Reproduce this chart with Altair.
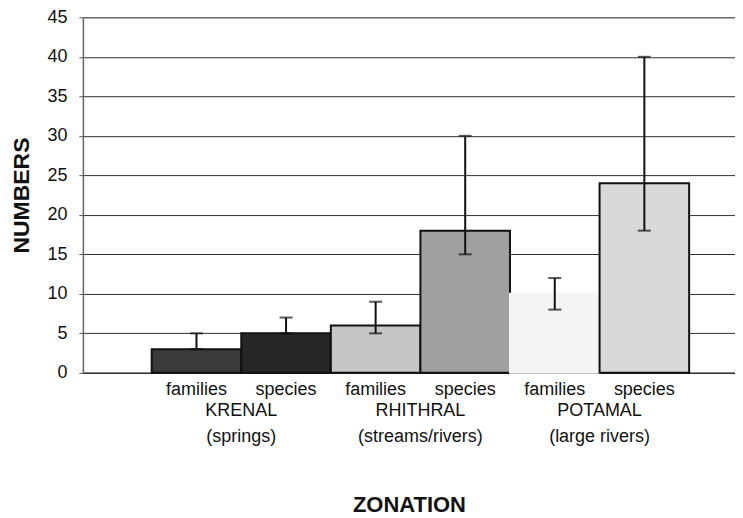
import altair as alt
import pandas as pd

zones = ["KRENAL", "KRENAL", "RHITHRAL", "RHITHRAL", "POTAMAL", "POTAMAL"]
kinds = ["families", "species", "families", "species", "families", "species"]
values = [3, 5, 6, 18, 10, 24]
err_low = [3, 5, 5, 15, 8, 18]
err_high = [5, 7, 9, 30, 12, 40]

group_names = ["KRENAL", "RHITHRAL", "POTAMAL"]
group_sub = ["(springs)", "(streams/rivers)", "(large rivers)"]

keys = [f"{z}|{k}" for z, k in zip(zones, kinds)]
df = pd.DataFrame({"key": keys, "zone": zones, "kind": kinds, "value": values,
                   "low": err_low, "high": err_high})
gdf = pd.DataFrame({"key": [f"{g}|species" for g in group_names],
                    "name": group_names, "sub": group_sub})

fills = ["#3a3a3a", "#262626", "#c6c6c6", "#a0a0a0", "#f4f4f4", "#d9d9d9"]
strokes = ["#111111", "#111111", "#111111", "#111111", "#f4f4f4", "#111111"]

FONT = "Liberation Sans"
W, H = 653, 356

xscale = alt.Scale(domain=keys, paddingInner=0, paddingOuter=0.64, align=0.6)
yscale = alt.Scale(domain=[0, 45], nice=False)

x_axis = alt.Axis(title="ZONATION", labelExpr="split(datum.label, '|')[1]",
                  labelAngle=0, labelFontSize=18, labelPadding=8, ticks=False,
                  titleFontSize=22, titleFontWeight="bold", titlePadding=96,
                  domainColor="#333333", domainWidth=1.5, labelColor="#111111",
                  titleColor="#111111", labelFont=FONT, titleFont=FONT)
y_axis = alt.Axis(title="NUMBERS", values=list(range(0, 46, 5)), grid=True,
                  gridColor="#2e2e2e", gridWidth=1, tickSize=4, tickColor="#555555",
                  labelFontSize=18, labelPadding=12, titleFontSize=23,
                  titleFontWeight="bold", titlePadding=13, domainColor="#666666",
                  domainWidth=1.5, labelColor="#111111", titleColor="#111111",
                  labelFont=FONT, titleFont=FONT, labelOverlap=False)

xs = alt.X("key:N", scale=xscale, sort=keys, axis=x_axis)

base = alt.Chart(df)

bars = base.mark_bar(strokeWidth=2).encode(
    x=xs,
    y=alt.Y("value:Q", scale=yscale, axis=y_axis),
    fill=alt.Fill("key:N", scale=alt.Scale(domain=keys, range=fills), legend=None),
    stroke=alt.Stroke("key:N", scale=alt.Scale(domain=keys, range=strokes), legend=None),
)

rules = base.mark_rule(color="#111111", strokeWidth=2).encode(
    x=xs, y=alt.Y("low:Q", scale=yscale, axis=y_axis), y2="high:Q")
cap_hi = base.mark_tick(color="#111111", thickness=2, size=13).encode(
    x=xs, y=alt.Y("high:Q", scale=yscale, axis=y_axis))
cap_lo = base.mark_tick(color="#111111", thickness=2, size=13).encode(
    x=xs, y=alt.Y("low:Q", scale=yscale, axis=y_axis))

gx = alt.X("key:N", scale=xscale, sort=keys, bandPosition=0, axis=x_axis)
names = alt.Chart(gdf).mark_text(fontSize=18, font=FONT, color="#111111", baseline="middle").encode(
    x=gx, y=alt.value(H + 38), text="name:N")
subs = alt.Chart(gdf).mark_text(fontSize=18, font=FONT, color="#111111", baseline="middle").encode(
    x=gx, y=alt.value(H + 64), text="sub:N")

chart = alt.layer(bars, rules, cap_hi, cap_lo, names, subs).properties(
    width=W, height=H,
    padding={"left": 2, "top": 0, "right": 0, "bottom": 0},
).configure_view(stroke=None).configure(font=FONT)

chart.save("out.html", embed_options={"renderer": "svg", "actions": False})
